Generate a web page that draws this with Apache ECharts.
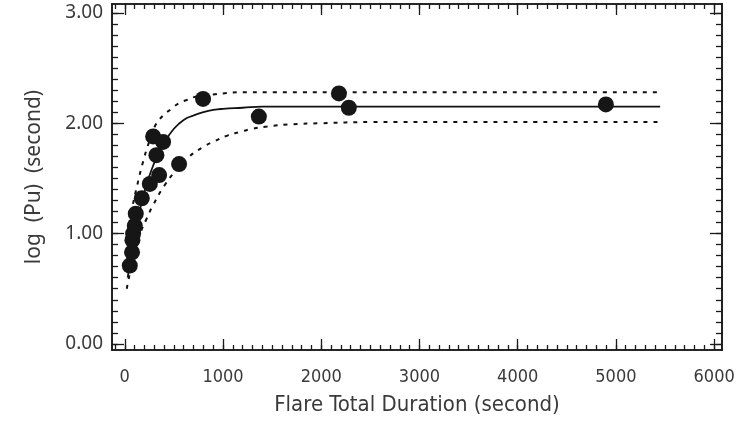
<!DOCTYPE html>
<html>
<head>
<meta charset="utf-8">
<script src="https://cdn.jsdelivr.net/npm/echarts@6/dist/echarts.min.js"></script>
<style>
html,body{margin:0;padding:0;background:#fff;}
#c{width:752px;height:421px;}
</style>
</head>
<body>
<div id="c"></div>
<script>
// ---- data ----
const obsX = [51, 74, 78, 85, 102, 112, 173, 255, 289, 322, 350, 390, 553, 797, 1365, 2180, 2281, 4898];
const obsY = [0.71, 0.83, 0.94, 1.00, 1.07, 1.18, 1.32, 1.45, 1.88, 1.71, 1.53, 1.83, 1.63, 2.22, 2.06, 2.27, 2.14, 2.17];

const fitX = [30, 100, 200, 300, 400, 500, 600, 700, 800, 900, 1000, 1200, 1400, 2000, 3000, 4000, 5450];
const fitY = [0.60, 0.98, 1.38, 1.64, 1.82, 1.95, 2.03, 2.07, 2.10, 2.12, 2.13, 2.14, 2.15, 2.15, 2.15, 2.15, 2.15];

const upX = [30, 80, 130, 180, 240, 305, 390, 475, 550, 630, 720, 800, 900, 1000, 1200, 1500, 2500, 3500, 4500, 5450];
const upY = [1.00, 1.25, 1.45, 1.63, 1.81, 1.97, 2.07, 2.13, 2.18, 2.21, 2.24, 2.25, 2.26, 2.27, 2.28, 2.28, 2.28, 2.28, 2.28, 2.28];

const loX = [20, 80, 150, 220, 290, 400, 530, 660, 790, 920, 1050, 1170, 1300, 1450, 1700, 2000, 2500, 3500, 4500, 5450];
const loY = [0.50, 0.75, 0.98, 1.13, 1.26, 1.43, 1.58, 1.70, 1.78, 1.84, 1.89, 1.92, 1.95, 1.97, 1.99, 2.00, 2.01, 2.01, 2.01, 2.01];

const xMajorTicks = [0, 1000, 2000, 3000, 4000, 5000, 6000];
const yMajorTicks = [0, 1, 2, 3];
const xMinorStep = 100;
const yMinorStep = 0.1;

const XMIN = -130, XMAX = 6080, YMIN = -0.055, YMAX = 3.08;

// minor tick positions
const xMinorTicks = [];
for (let v = -100; v <= 6000; v += xMinorStep) xMinorTicks.push(v);
const yMinorTicks = [];
for (let i = 0; i <= 30; i++) yMinorTicks.push(+(i * yMinorStep).toFixed(2));

const zip = (a, b) => a.map((v, i) => [v, b[i]]);

const AX = '#1a1a1a';
const TXT = '#3a3a3a';
const XFONT = "'Liberation Sans Narrow','DejaVu Sans Condensed','Noto Sans',sans-serif";
function xAx(pos, ticks, len, showLabel) {
  return {
    type: 'value', position: pos, min: XMIN, max: XMAX, gridIndex: 0,
    axisLine: {show: true, onZero: false, lineStyle: {color: AX, width: 1.6}},
    axisTick: {show: true, inside: true, length: len, customValues: ticks, lineStyle: {color: AX, width: 1.3}},
    axisLabel: showLabel ? {
      show: true, customValues: xMajorTicks, margin: 18, color: TXT, fontSize: 18,
      fontFamily: XFONT, formatter: v => String(v)
    } : {show: false},
    splitLine: {show: false}, minorTick: {show: false}
  };
}
function yAx(pos, ticks, len, showLabel) {
  return {
    type: 'value', position: pos, min: YMIN, max: YMAX, gridIndex: 0,
    axisLine: {show: true, onZero: false, lineStyle: {color: AX, width: 1.6}},
    axisTick: {show: true, inside: true, length: len, customValues: ticks, lineStyle: {color: AX, width: 1.3}},
    axisLabel: showLabel ? {
      show: true, customValues: yMajorTicks, margin: 9, color: TXT, fontSize: 19,
      fontFamily: "'Noto Sans',sans-serif",
      formatter: v => Number(v).toFixed(2)
    } : {show: false},
    splitLine: {show: false}, minorTick: {show: false}
  };
}

const xAxes = [
  Object.assign(xAx('bottom', xMajorTicks, 11, true), {
    name: 'Flare Total Duration (second)', nameLocation: 'middle', nameGap: 44,
    nameTextStyle: {color: TXT, fontSize: 22, fontFamily: XFONT}
  }),
  xAx('bottom', xMinorTicks, 5, false),
  xAx('top', xMajorTicks, 11, false),
  xAx('top', xMinorTicks, 5, false)
];
const yAxes = [
  Object.assign(yAx('left', yMajorTicks, 12, true), {
    name: 'log  (Pu)  (second)', nameLocation: 'middle', nameGap: 67,
    nameTextStyle: {color: TXT, fontSize: 21, fontFamily: "'Noto Sans',sans-serif"}
  }),
  yAx('left', yMinorTicks, 6, false),
  yAx('right', yMajorTicks, 12, false),
  yAx('right', yMinorTicks, 6, false)
];

const chart = echarts.init(document.getElementById('c'), null, {renderer: 'canvas'});
chart.setOption({
  animation: false,
  backgroundColor: '#fff',
  grid: {left: 112, right: 30, top: 4, bottom: 69, containLabel: false},
  xAxis: xAxes,
  yAxis: yAxes,
  series: [
    {type: 'line', data: zip(fitX, fitY), smooth: 0.5, showSymbol: false, symbol: 'none',
     lineStyle: {color: '#111', width: 1.8}, z: 2},
    {type: 'line', data: zip(upX, upY), smooth: 0.5, showSymbol: false, symbol: 'none',
     lineStyle: {color: '#111', width: 2, type: [4, 6]}, z: 2},
    {type: 'line', data: zip(loX, loY), smooth: 0.5, showSymbol: false, symbol: 'none',
     lineStyle: {color: '#111', width: 2, type: [4, 6]}, z: 2},
    {type: 'scatter', data: zip(obsX, obsY), symbol: 'circle', symbolSize: 16,
     itemStyle: {color: '#161616', opacity: 1}, z: 3}
  ]
});
</script>
</body>
</html>
